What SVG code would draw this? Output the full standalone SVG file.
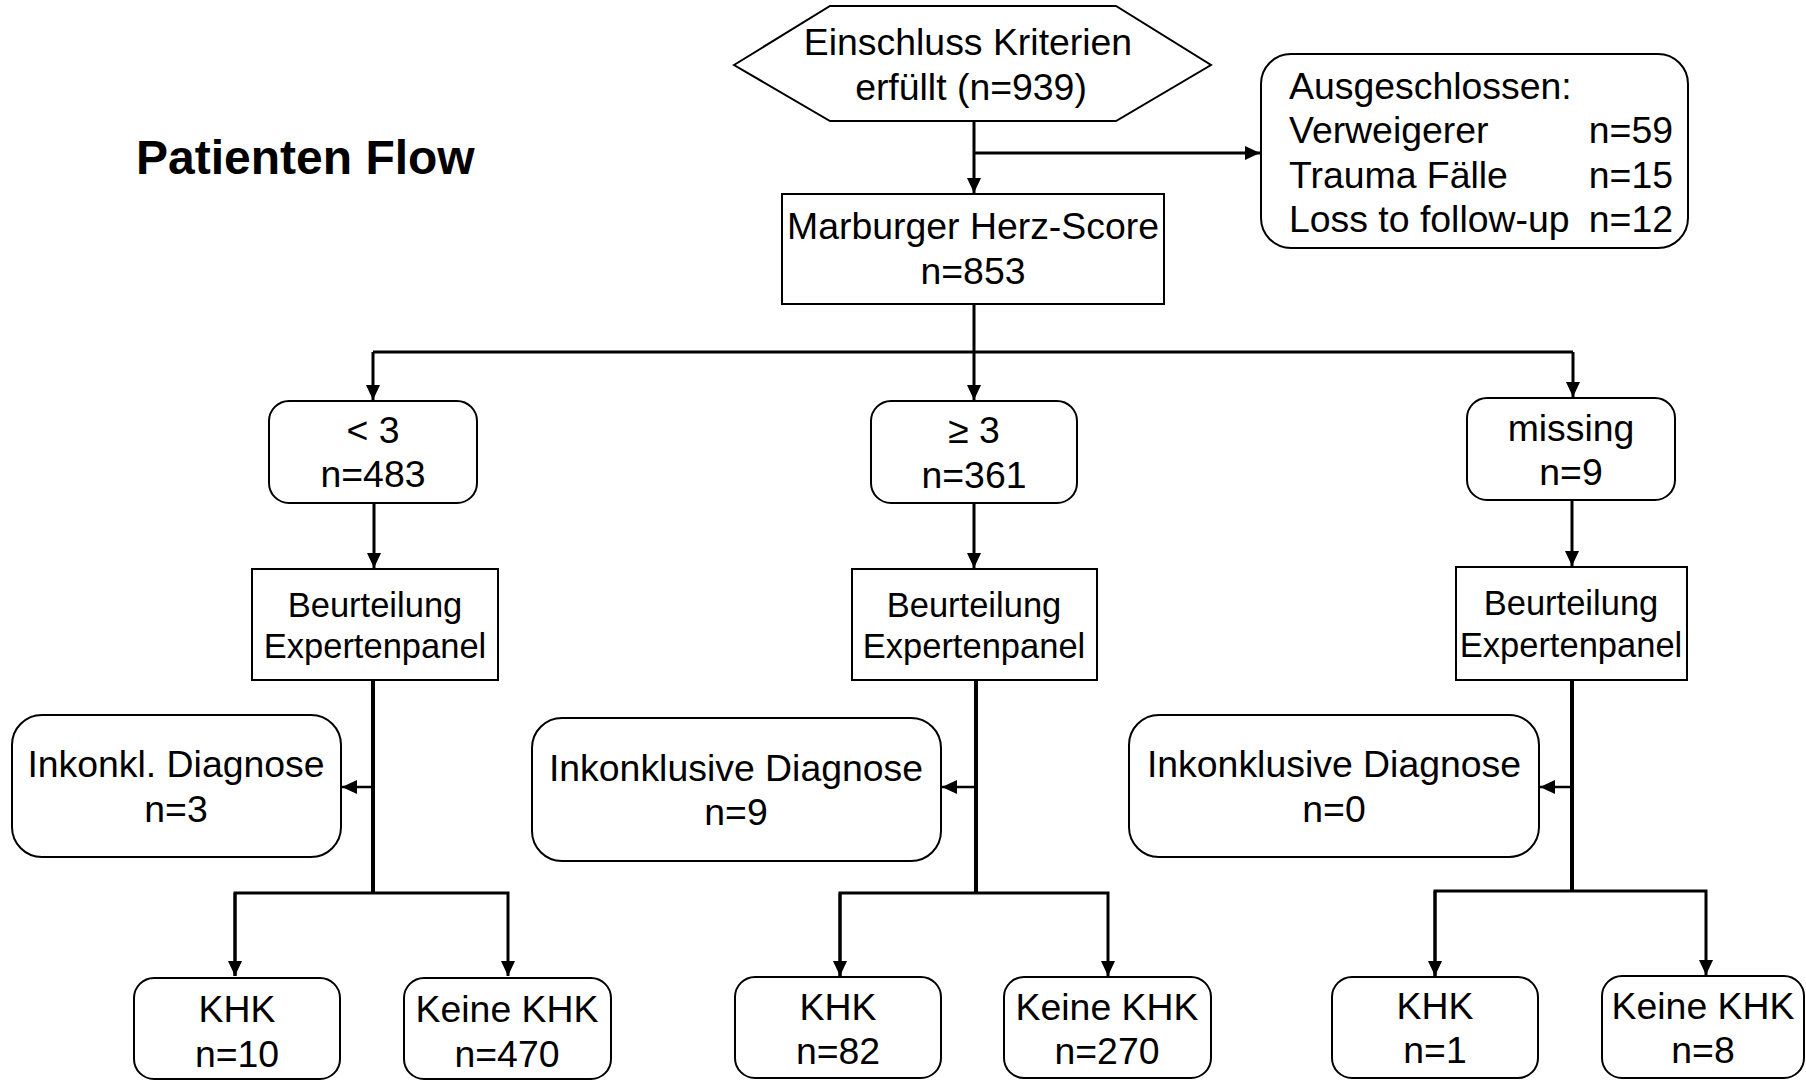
<svg xmlns="http://www.w3.org/2000/svg" width="1806" height="1080" viewBox="0 0 1806 1080">
  <style>
    text { font-family: "Liberation Sans", Arial, sans-serif; fill: #000; }
    .t { font-size: 37.4px; text-anchor: middle; }
    .s { font-size: 34.5px; text-anchor: middle; }
    .l { font-size: 37.4px; }
    .r { font-size: 37.4px; text-anchor: end; }
    .title { font-size: 48px; font-weight: bold; }
    .box { fill: #fff; stroke: #000; stroke-width: 2; }
    .conn { fill: none; stroke: #000; stroke-width: 3; }
    .trunk { fill: none; stroke: #000; stroke-width: 4; }
    .side { fill: none; stroke: #000; stroke-width: 2.5; }
  </style>
  <defs>
    <marker id="arrow" markerUnits="userSpaceOnUse" markerWidth="15" markerHeight="14" refX="15" refY="7" orient="auto">
      <path d="M0,0 L15,7 L0,14 z" fill="#000"/>
    </marker>
  </defs>

  <rect width="1806" height="1080" fill="#fff"/>

  <text class="title" x="136" y="174">Patienten Flow</text>

  <!-- connectors -->
  <g id="connectors">
    <path class="conn" d="M974,121 V193" marker-end="url(#arrow)"/>
    <path class="conn" d="M974,153 H1260" marker-end="url(#arrow)"/>
    <path class="conn" d="M974,304 V352"/>
    <path class="conn" d="M373,352 H1573"/>
    <path class="conn" d="M373,352 V400" marker-end="url(#arrow)"/>
    <path class="conn" d="M974,352 V400" marker-end="url(#arrow)"/>
    <path class="conn" d="M1573,352 V397" marker-end="url(#arrow)"/>

    <path class="conn" d="M374,503 V568" marker-end="url(#arrow)"/>
    <path class="conn" d="M974,503 V568" marker-end="url(#arrow)"/>
    <path class="conn" d="M1572,500 V566" marker-end="url(#arrow)"/>

    <path class="trunk" d="M373,680 V893"/>
    <path class="trunk" d="M976,680 V893"/>
    <path class="trunk" d="M1572,680 V891"/>

    <path class="side" d="M373,787 H342" marker-end="url(#arrow)"/>
    <path class="side" d="M976,787 H942" marker-end="url(#arrow)"/>
    <path class="side" d="M1572,787 H1540" marker-end="url(#arrow)"/>

    <path class="conn" d="M235,976 V893 H508 V976" marker-end="url(#arrow)"/>
    <path class="conn" d="M235,893 V976" marker-end="url(#arrow)"/>
    <path class="conn" d="M840,976 V893 H1108 V976" marker-end="url(#arrow)"/>
    <path class="conn" d="M840,893 V976" marker-end="url(#arrow)"/>
    <path class="conn" d="M1435,976 V891 H1706 V975" marker-end="url(#arrow)"/>
    <path class="conn" d="M1435,891 V976" marker-end="url(#arrow)"/>
  </g>

  <!-- top -->
  <g id="einschluss">
    <polygon class="box" points="734,65 830,6 1116,6 1211,65 1116,121 830,121"/>
    <text class="t" x="968" y="55">Einschluss Kriterien</text>
    <text class="t" x="971" y="100">erfüllt (n=939)</text>
  </g>

  <g id="ausgeschlossen">
    <rect class="box" x="1261" y="54" width="427" height="194" rx="30"/>
    <text class="l" x="1289" y="99">Ausgeschlossen:</text>
    <text class="l" x="1289" y="143">Verweigerer</text>
    <text class="r" x="1673" y="143">n=59</text>
    <text class="l" x="1289" y="188">Trauma Fälle</text>
    <text class="r" x="1673" y="188">n=15</text>
    <text class="l" x="1289" y="232">Loss to follow-up</text>
    <text class="r" x="1673" y="232">n=12</text>
  </g>

  <g id="marburger">
    <rect class="box" x="782" y="194" width="382" height="110"/>
    <text class="t" x="973" y="239">Marburger Herz-Score</text>
    <text class="t" x="973" y="284">n=853</text>
  </g>

  <!-- score groups -->
  <g id="score-lt3">
    <rect class="box" x="269" y="401" width="208" height="102" rx="20"/>
    <text class="t" x="373" y="443">&lt; 3</text>
    <text class="t" x="373" y="487">n=483</text>
  </g>
  <g id="score-ge3">
    <rect class="box" x="871" y="401" width="206" height="102" rx="20"/>
    <text class="t" x="974" y="443">≥ 3</text>
    <text class="t" x="974" y="488">n=361</text>
  </g>
  <g id="score-missing">
    <rect class="box" x="1467" y="398" width="208" height="102" rx="20"/>
    <text class="t" x="1571" y="441">missing</text>
    <text class="t" x="1571" y="485">n=9</text>
  </g>

  <!-- expert panel -->
  <g id="panel-lt3">
    <rect class="box" x="252" y="569" width="246" height="111"/>
    <text class="s" x="375" y="617">Beurteilung</text>
    <text class="s" x="375" y="658">Expertenpanel</text>
  </g>
  <g id="panel-ge3">
    <rect class="box" x="852" y="569" width="245" height="111"/>
    <text class="s" x="974" y="617">Beurteilung</text>
    <text class="s" x="974" y="658">Expertenpanel</text>
  </g>
  <g id="panel-missing">
    <rect class="box" x="1456" y="567" width="231" height="113"/>
    <text class="s" x="1571" y="615">Beurteilung</text>
    <text class="s" x="1571" y="657">Expertenpanel</text>
  </g>

  <!-- inconclusive -->
  <g id="inkonkl-lt3">
    <rect class="box" x="12" y="715" width="329" height="142" rx="30"/>
    <text class="t" x="176" y="777">Inkonkl. Diagnose</text>
    <text class="t" x="176" y="822">n=3</text>
  </g>
  <g id="inkonkl-ge3">
    <rect class="box" x="532" y="718" width="409" height="143" rx="30"/>
    <text class="t" x="736" y="781">Inkonklusive Diagnose</text>
    <text class="t" x="736" y="825">n=9</text>
  </g>
  <g id="inkonkl-missing">
    <rect class="box" x="1129" y="715" width="410" height="142" rx="30"/>
    <text class="t" x="1334" y="777">Inkonklusive Diagnose</text>
    <text class="t" x="1334" y="822">n=0</text>
  </g>

  <!-- outcomes -->
  <g id="khk-lt3">
    <rect class="box" x="134" y="978" width="206" height="101" rx="20"/>
    <text class="t" x="237" y="1022">KHK</text>
    <text class="t" x="237" y="1067">n=10</text>
  </g>
  <g id="keine-lt3">
    <rect class="box" x="404" y="978" width="207" height="101" rx="20"/>
    <text class="t" x="507" y="1022">Keine KHK</text>
    <text class="t" x="507" y="1067">n=470</text>
  </g>
  <g id="khk-ge3">
    <rect class="box" x="735" y="977" width="206" height="101" rx="20"/>
    <text class="t" x="838" y="1020">KHK</text>
    <text class="t" x="838" y="1064">n=82</text>
  </g>
  <g id="keine-ge3">
    <rect class="box" x="1004" y="977" width="207" height="101" rx="20"/>
    <text class="t" x="1107" y="1020">Keine KHK</text>
    <text class="t" x="1107" y="1064">n=270</text>
  </g>
  <g id="khk-missing">
    <rect class="box" x="1332" y="977" width="206" height="101" rx="20"/>
    <text class="t" x="1435" y="1019">KHK</text>
    <text class="t" x="1435" y="1063">n=1</text>
  </g>
  <g id="keine-missing">
    <rect class="box" x="1602" y="976" width="202" height="102" rx="20"/>
    <text class="t" x="1703" y="1019">Keine KHK</text>
    <text class="t" x="1703" y="1063">n=8</text>
  </g>
</svg>
